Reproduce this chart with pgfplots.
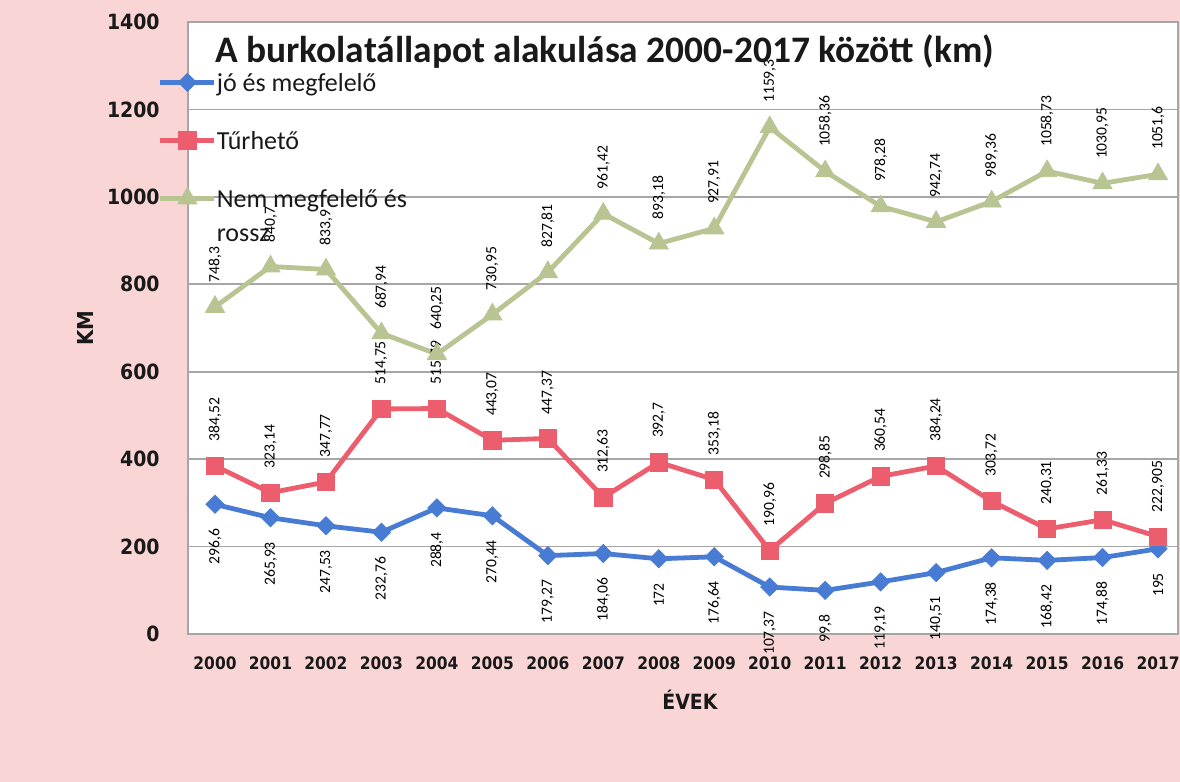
\documentclass[border=0pt]{standalone}
\usepackage{fontspec}
\setmainfont{Carlito}
\newfontfamily\tickfont{DejaVu Sans Condensed}
\usepackage{pgfplots}
\pgfplotsset{compat=1.18}
\usepackage{pgfplotstable}
\definecolor{bgpink}{RGB}{249,214,213}
\definecolor{cblue}{RGB}{72,124,212}
\definecolor{cred}{RGB}{236,94,110}
\definecolor{cgreen}{RGB}{184,196,146}
\definecolor{txt}{RGB}{25,25,25}
\newcommand\lblfont{\fontsize{7.8}{9}\selectfont}

\pgfplotstableread{
x y
0 296.6
1 265.93
2 247.53
3 232.76
4 288.4
5 270.44
6 179.27
7 184.06
8 172
9 176.64
10 107.37
11 99.8
12 119.19
13 140.51
14 174.38
15 168.42
16 174.88
17 195
}\tblue

\pgfplotstableread{
x y
0 384.52
1 323.14
2 347.77
3 514.75
4 515.79
5 443.07
6 447.37
7 312.63
8 392.7
9 353.18
10 190.96
11 298.85
12 360.54
13 384.24
14 303.72
15 240.31
16 261.33
17 222.905
}\tred

\pgfplotstableread{
x y
0 748.3
1 840.7
2 833.9
3 687.94
4 640.25
5 730.95
6 827.81
7 961.42
8 893.18
9 927.91
10 1159.3
11 1058.36
12 978.28
13 942.74
14 989.36
15 1058.73
16 1030.95
17 1051.6
}\tgreen

\begin{document}
\begin{tikzpicture}
\fill[bgpink] (0,0) rectangle (590pt,391pt);
\begin{axis}[
  at={(94pt,74pt)}, anchor=south west,
  scale only axis, width=495pt, height=306pt,
  xmin=-0.487, xmax=17.36, ymin=0, ymax=1400,
  ytick={0,200,400,600,800,1000,1200,1400},
  xtick={0,...,17},
  xticklabels={2000,2001,2002,2003,2004,2005,2006,2007,2008,2009,2010,2011,2012,2013,2014,2015,2016,2017},
  major tick length=0pt,
  ymajorgrids, grid style={gray!70, line width=0.8pt},
  axis line style={gray!70, line width=0.8pt},
  axis background/.style={fill=white},
  clip=false,
  /pgf/number format/.cd, use comma, 1000 sep={}, fixed, precision=3, assume math mode=true,
  /pgfplots/.cd,
  yticklabel style={font=\tickfont\bfseries\fontsize{10.5}{12}\selectfont, text=txt, anchor=east, inner sep=0pt, xshift=-14pt},
  xticklabel style={font=\tickfont\bfseries\fontsize{8.6}{10}\selectfont, text=txt, anchor=north, inner sep=0pt, yshift=-11pt},
  xlabel={ÉVEK}, ylabel={KM},
  xlabel style={at={(0.507,-0.108)}, anchor=center, font=\tickfont\bfseries\fontsize{10.5}{12}\selectfont, text=txt},
  ylabel style={at={(-0.104,0.5)}, anchor=center, font=\tickfont\bfseries\fontsize{11}{12}\selectfont, text=txt},
  title={A burkolatállapot alakulása 2000-2017 között (km)},
  every axis title shift=0pt,
  title style={at={(0.027,0.9346)}, anchor=base west, inner sep=0pt, font=\fontsize{18.7}{22}\selectfont\bfseries, text=txt},
  legend style={at={(-0.0303,0.916)}, anchor=north west, draw=none, fill=none, inner sep=0pt, outer sep=0pt,
    row sep={29pt,between origins}, column sep=0pt, font=\fontsize{13}{17}\selectfont, text=txt,
    cells={anchor=base west}, nodes={inner sep=0pt}},
  legend image code/.code={\draw[mark repeat=2,mark phase=2,#1] plot coordinates {(0pt,4.5pt)(13.5pt,4.5pt)(27pt,4.5pt)};},
  every node near coord/.append style={rotate=90, inner xsep=12pt, inner ysep=0pt, font=\lblfont, text=black},
]
\addplot[cblue, line width=2.4pt, mark=square*, mark size=3.2pt,
  mark options={rotate=45, solid, line width=0.4pt, fill=cblue},
  nodes near coords, every node near coord/.append style={anchor=east}]
  table[x=x,y=y]{\tblue};
\addlegendentry{jó és megfelelő}
\addplot[cred, line width=2.4pt, mark=square*, mark size=4.3pt,
  mark options={solid, line width=0.4pt, fill=cred},
  nodes near coords, every node near coord/.append style={anchor=west}]
  table[x=x,y=y]{\tred};
\addlegendentry{Tűrhető}
\addplot[cgreen, line width=2.4pt, mark=triangle*, mark size=5.5pt,
  mark options={solid, line width=0.4pt, fill=cgreen},
  nodes near coords, every node near coord/.append style={anchor=west}]
  table[x=x,y=y]{\tgreen};
\addlegendentry{\begin{tabular}[t]{@{}l@{}}Nem megfelelő és\\rossz\end{tabular}}
\end{axis}
\pgfresetboundingbox
\useasboundingbox (0,0) rectangle (590pt,391pt);
\end{tikzpicture}
\end{document}
